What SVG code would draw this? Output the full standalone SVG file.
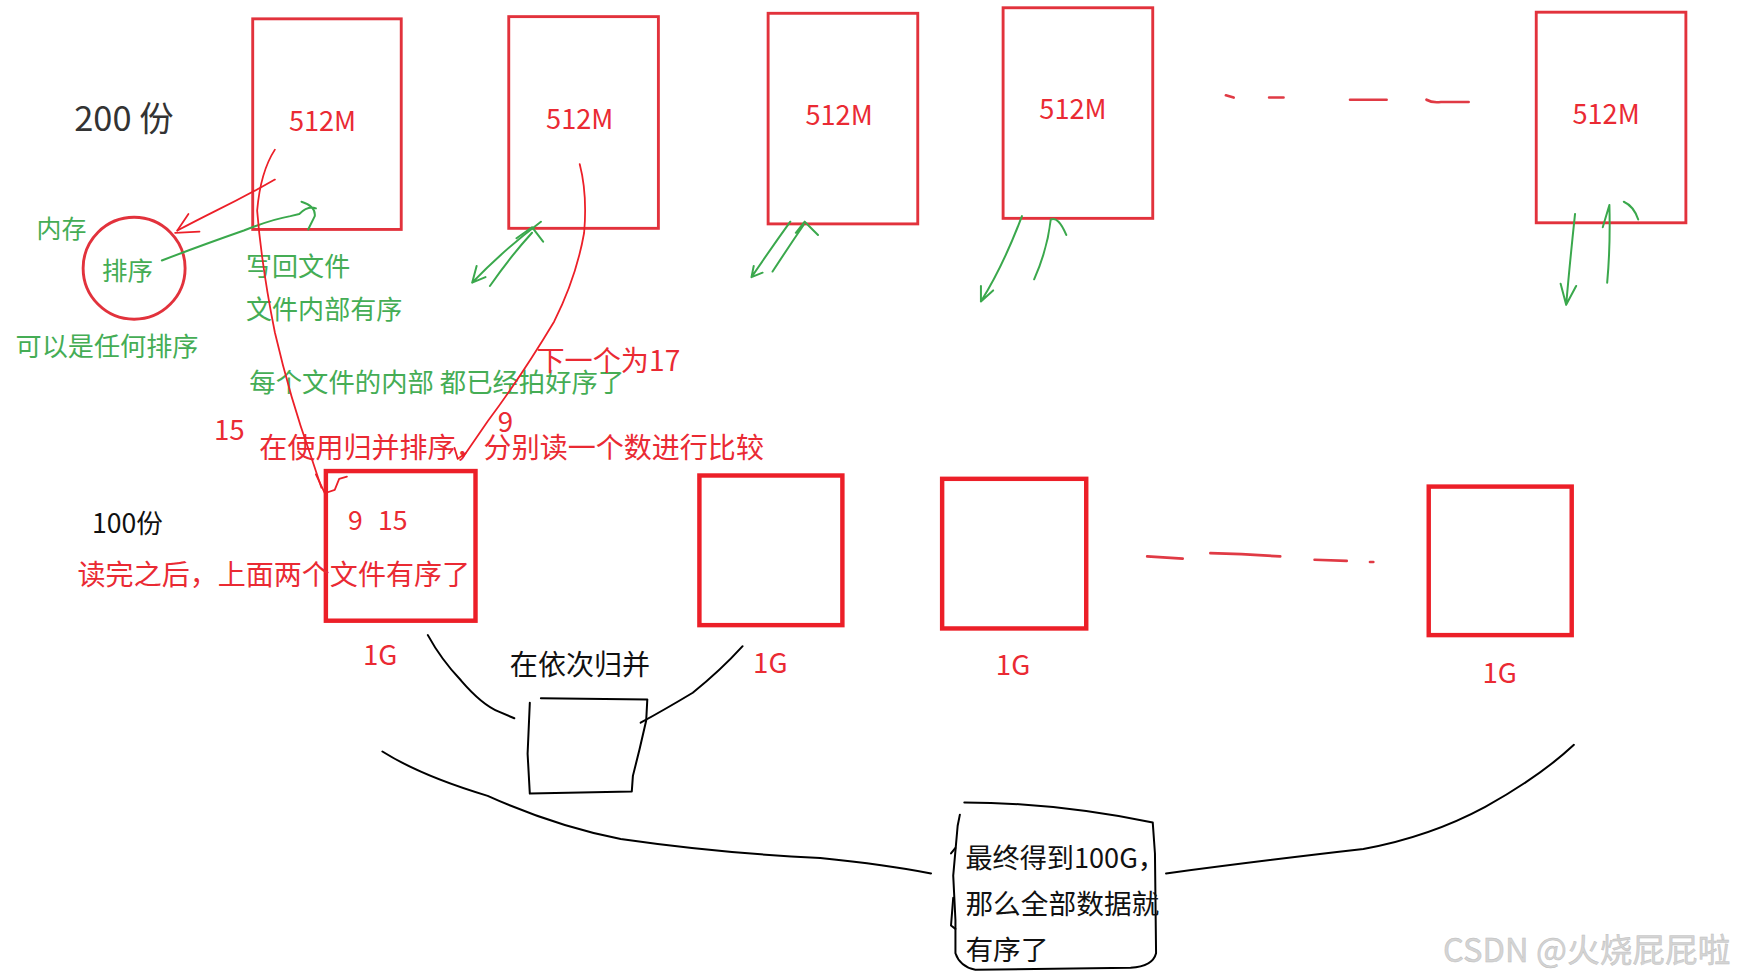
<svg xmlns="http://www.w3.org/2000/svg" width="1738" height="980" viewBox="0 0 1738 980">
<style>
.t{font-family:"Noto Sans CJK SC","Liberation Sans",sans-serif}
.red{fill:#ea2a33}
.grn{fill:#45ad55}
.blk{fill:#111}
.box1{fill:none;stroke:#e2323c;stroke-width:2.6}
.box2{fill:none;stroke:#ec1f28;stroke-width:4}
.rl{fill:none;stroke:#ec1f28;stroke-width:1.6;stroke-linecap:round;stroke-linejoin:round}
.gl{fill:none;stroke:#3aa84c;stroke-width:1.8;stroke-linecap:round;stroke-linejoin:round}
.bl{fill:none;stroke:#000;stroke-width:1.8;stroke-linecap:round;stroke-linejoin:round}
.dash{fill:none;stroke:#e03a44;stroke-width:2.4;stroke-linecap:round}
</style>
<rect width="1738" height="980" fill="#fff"/>
<g transform="scale(1.1084)">
<g id="label-200"><text class="t" x="67" y="118" font-size="31" fill="#333">200 份</text></g>
<g id="file1"><rect class="box1" x="228" y="17" width="134" height="190"/><text class="t red" x="291" y="118" font-size="24.5" text-anchor="middle">512M</text></g>
<g id="file2"><rect class="box1" x="459" y="15" width="135" height="191"/><text class="t red" x="523" y="116" font-size="24.5" text-anchor="middle">512M</text></g>
<g id="file3"><rect class="box1" x="693" y="12" width="135" height="190"/><text class="t red" x="757" y="113" font-size="24.5" text-anchor="middle">512M</text></g>
<g id="file4"><rect class="box1" x="905" y="7" width="135" height="190"/><text class="t red" x="968" y="107" font-size="24.5" text-anchor="middle">512M</text></g>
<g id="file5"><rect class="box1" x="1386" y="11" width="135" height="190"/><text class="t red" x="1449" y="112" font-size="24.5" text-anchor="middle">512M</text></g>
<g id="dots-top">
<path class="dash" d="M1106 86 L1113 88 M1145 88 L1158 88 M1218 90 L1251 90 M1287 90 Q1292 93 1300 92 L1325 92"/>
</g>
<g id="memory">
<circle cx="121" cy="242" r="46" fill="none" stroke="#e2323c" stroke-width="2.6"/>
<text class="t grn" x="115" y="253" font-size="23" text-anchor="middle">排序</text>
<text class="t grn" x="33" y="215" font-size="22.5">内存</text>
<text class="t grn" x="14" y="321" font-size="23.6">可以是任何排序</text>
</g>
<g id="note-writeback">
<text class="t grn" x="222" y="249" font-size="23.5">写回文件</text>
<text class="t grn" x="222" y="288" font-size="23.5">文件内部有序</text>
</g>
<g id="note-sorted"><text class="t grn" x="225" y="354" font-size="23.8">每个文件的内部 都已经拍好序了</text></g>
<g id="note-merge">
<text class="t red" x="484" y="335" font-size="25.4">下一个为17</text>
<text class="t red" x="193" y="397" font-size="25">15</text>
<text class="t red" x="449" y="390" font-size="25">9</text>
<text class="t red" x="234" y="413" font-size="25.3">在使用归并排序，分别读一个数进行比较</text>
</g>
<g id="label-100"><text class="t blk" x="83" y="481" font-size="24">100份</text></g>
<g id="merged1"><rect class="box2" x="294" y="425" width="135" height="135"/><text class="t red" x="314" y="478" font-size="24">9</text><text class="t red" x="341" y="478" font-size="24">15</text><text class="t red" x="343" y="600" font-size="25" text-anchor="middle">1G</text></g>
<g id="note-after"><text class="t red" x="70" y="528" font-size="25.3">读完之后，上面两个文件有序了</text></g>
<g id="merged2"><rect class="box2" x="631" y="429" width="129" height="135"/><text class="t red" x="695" y="607" font-size="25" text-anchor="middle">1G</text></g>
<g id="merged3"><rect class="box2" x="850" y="432" width="130" height="135"/><text class="t red" x="914" y="609" font-size="25" text-anchor="middle">1G</text></g>
<g id="merged4"><rect class="box2" x="1289" y="439" width="129" height="134"/><text class="t red" x="1353" y="616" font-size="25" text-anchor="middle">1G</text></g>
<g id="dots-mid">
<path class="dash" d="M1035 502 L1067 504 M1092 499 L1120 500 L1155 502 M1186 505 L1215 506 M1236 507 L1239 507"/>
</g>
<g id="note-again"><text class="t blk" x="460" y="609" font-size="25.3">在依次归并</text></g>
<g id="pair-box"><path class="bl" d="M478 634 L476 680 L478 716 L570 714 L571 700 L577 676 L583 650 L584 631 L488 630"/></g>
<g id="final">
<path class="bl" d="M870 724 Q950 724 1040 742 L1042 770 L1043 860 Q1040 872 1020 873 L880 875 Q866 872 862 860 L862 830 L860 790 L864 745 L866 735"/>
<path class="bl" d="M858 770 L862 765 M860 810 L858 835 L862 838"/>
<text class="t blk" x="871" y="783" font-size="24.5">最终得到100G，</text>
<text class="t blk" x="871" y="825" font-size="25">那么全部数据就</text>
<text class="t blk" x="871" y="866" font-size="25">有序了</text>
</g>
<g id="connectors">
<path class="rl" d="M248 162 Q220 178 195 190 Q175 200 160 208"/>
<path class="rl" d="M160 208 L170 193 M158 210 L180 209"/>
<path class="gl" d="M146 235 Q180 222 220 208 Q245 198 262 195 L270 193 Q278 185 285 188 M272 182 Q285 186 284 195 L278 207"/>
<path class="rl" d="M248 135 Q235 155 232 190 Q236 240 248 300 Q262 360 280 410 L290 440"/>
<path class="rl" d="M285 428 L293 445 L302 442 L306 432 L313 430"/>
<path class="rl" d="M523 148 Q530 175 527 210 Q520 250 500 290 Q470 340 440 380 L418 412"/>
<path class="rl" d="M410 404 L413 414 L420 409"/>
<path class="gl" d="M488 200 Q455 225 426 255 M426 255 L430 240 M426 255 L438 250"/>
<path class="gl" d="M442 258 Q460 232 480 210 M466 215 L480 205 L490 218"/>
<path class="gl" d="M713 200 Q695 225 678 250 L680 240 M678 250 L688 246"/>
<path class="gl" d="M697 245 Q712 222 725 203 M718 210 L726 200 L738 212"/>
<path class="gl" d="M922 195 Q905 240 885 272 L885 258 M885 272 L896 262"/>
<path class="gl" d="M933 252 Q945 225 948 198 Q955 195 962 212"/>
<path class="gl" d="M1421 193 Q1416 240 1413 275 L1408 256 M1413 275 L1422 258"/>
<path class="gl" d="M1450 255 Q1453 222 1452 185 M1446 205 L1452 185 M1465 182 Q1474 186 1478 198"/>
<path class="bl" d="M386 573 Q398 595 416 614 Q435 636 450 642 L464 648"/>
<path class="bl" d="M578 652 Q600 640 625 625 Q650 605 670 583"/>
<path class="bl" d="M345 678 Q380 700 440 718 Q500 745 560 757 Q650 770 740 774 Q800 780 840 788"/>
<path class="bl" d="M1052 788 Q1150 775 1230 766 Q1290 755 1340 728 Q1390 700 1420 672"/>
</g>
<g id="watermark"><text class="t" x="1302" y="868" font-size="29.5" fill="#d4d4d4" stroke="#bdbdbd" stroke-width="0.4">CSDN @火烧屁屁啦</text></g>
</g>
</svg>
